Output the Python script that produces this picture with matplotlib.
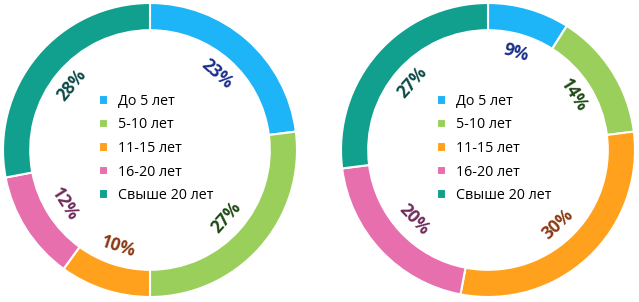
import numpy as np
import matplotlib
matplotlib.use("Agg")
import matplotlib.pyplot as plt

plt.rcParams['font.family'] = ['Open Sans', 'DejaVu Sans']

categories = ["До 5 лет", "5-10 лет", "11-15 лет", "16-20 лет", "Свыше 20 лет"]
left_values = [23, 27, 10, 12, 28]
right_values = [9, 14, 30, 20, 27]

colors = ["#1EB4F8", "#9BCF5C", "#FFA11C", "#E86FAE", "#12A08E"]
label_colors = ["#1A2F8A", "#1E4A14", "#8A3A14", "#6E2A5A", "#0E4A48"]


def donut(ax, values):
    wedges, _ = ax.pie(values, colors=colors, startangle=90, counterclock=False,
                       radius=1.0,
                       wedgeprops=dict(width=0.185, edgecolor="white", linewidth=1.5))
    total = float(sum(values))
    start = 90.0
    r = 0.69
    for v, c in zip(values, label_colors):
        span = v / total * 360.0
        mid = start - span / 2.0
        start -= span
        th = np.deg2rad(mid)
        # tangential text, flipped so it never reads upside down
        rot = mid - 90.0
        rot = (rot + 180.0) % 360.0 - 180.0
        if rot < -90 or rot > 90:
            rot += 180.0
            rot = (rot + 180.0) % 360.0 - 180.0
        ax.text(r * np.cos(th), r * np.sin(th), f"{v}%", rotation=rot,
                rotation_mode="anchor", ha="center", va="center",
                fontsize=12.5, fontweight="bold", color=c)
    ax.legend(wedges, categories, loc="center", bbox_to_anchor=(0.52, 0.505),
              frameon=False, fontsize=10.3, handlelength=0.65, handleheight=0.65,
              handletextpad=0.7, labelspacing=0.6, borderaxespad=0)
    ax.set_xlim(-1, 1)
    ax.set_ylim(-1, 1)
    ax.set_aspect("equal")
    ax.axis("off")


fig = plt.figure(figsize=(6.39, 3.02), dpi=100)
ax1 = fig.add_axes([3 / 639, 5 / 302, 294 / 639, 294 / 302])
ax2 = fig.add_axes([341 / 639, 5 / 302, 294 / 639, 294 / 302])
donut(ax1, left_values)
donut(ax2, right_values)

fig.savefig("out.png", dpi=100, facecolor="white")
